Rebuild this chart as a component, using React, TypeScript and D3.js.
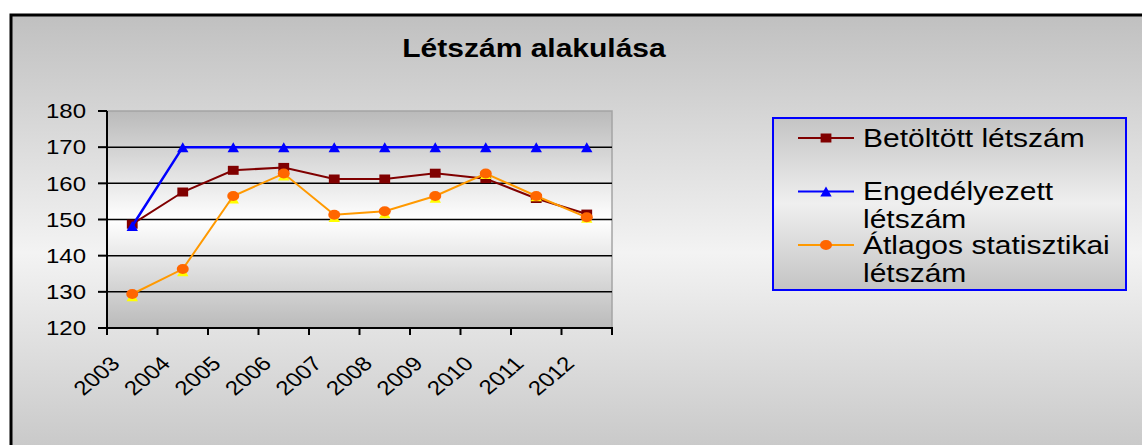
import React, { useRef, useEffect } from "react";
import * as d3 from "d3";

// data
const years = ["2003", "2004", "2005", "2006", "2007", "2008", "2009", "2010", "2011", "2012"];
const betoltott = [148.7, 157.6, 163.6, 164.4, 161.2, 161.2, 162.8, 161.3, 155.8, 151.5];
const engedelyezett = [148.2, 170, 170, 170, 170, 170, 170, 170, 170, 170];
const atlagos = [129.4, 136.3, 156.5, 162.7, 151.3, 152.3, 156.5, 162.7, 156.5, 150.6];
// yellow triangles peeking out under the orange circles (no legend entry)
const atlagosSarga = [128.8, 135.7, 155.8, 162.2, 150.7, 151.7, 156.0, 162.6, 156.4, 150.5];
const yTicks = [120, 130, 140, 150, 160, 170, 180];
const title = "Létszám alakulása";
const seriesNames = ["Betöltött létszám", "Engedélyezett létszám", "Átlagos statisztikai létszám"];

const W = 1142;
const H = 445;
const SX = 1.2; // the original image is stretched horizontally
const FONT = "'Liberation Sans', Arial, sans-serif";

const App = () => {
  const svgRef = useRef<SVGSVGElement>(null);

  useEffect(() => {
    const svg = d3.select(svgRef.current);
    svg.selectAll("*").remove();

    const plot = { left: 107, right: 612, top: 111, bottom: 328 };

    // gradients
    const defs = svg.append("defs");
    const addGrad = (id: string, y1: number, y2: number, stops: [number, string][]) => {
      const g = defs
        .append("linearGradient")
        .attr("id", id)
        .attr("gradientUnits", "userSpaceOnUse")
        .attr("x1", 0)
        .attr("x2", 0)
        .attr("y1", y1)
        .attr("y2", y2);
      stops.forEach(([o, c]) => g.append("stop").attr("offset", o).attr("stop-color", c));
    };
    addGrad("bgGrad", 15, 490, [[0, "#c0c0c0"], [0.5, "#f3f3f3"], [1, "#c0c0c0"]]);
    addGrad("plotGrad", plot.top, plot.bottom, [[0, "#bababa"], [0.5, "#ffffff"], [1, "#bababa"]]);
    addGrad("legendGrad", 118, 290, [[0, "#c4c4c4"], [0.5, "#efefef"], [1, "#c4c4c4"]]);

    // chart area
    svg
      .append("rect")
      .attr("x", 11)
      .attr("y", 15)
      .attr("width", 1200)
      .attr("height", 500)
      .attr("fill", "url(#bgGrad)")
      .attr("stroke", "#000")
      .attr("stroke-width", 3);

    // title
    svg
      .append("text")
      .attr("transform", `translate(534,57) scale(${SX},1)`)
      .attr("text-anchor", "middle")
      .attr("font-family", FONT)
      .attr("font-weight", "bold")
      .attr("font-size", 25)
      .text(title);

    // scales
    const x = d3.scaleBand().domain(years).range([plot.left, plot.right]).padding(0);
    const cx = (i: number) => (x(years[i]) as number) + x.bandwidth() / 2;
    const y = d3.scaleLinear().domain([120, 180]).range([plot.bottom, plot.top]);

    // plot area
    svg
      .append("rect")
      .attr("x", plot.left)
      .attr("y", plot.top)
      .attr("width", plot.right - plot.left)
      .attr("height", plot.bottom - plot.top)
      .attr("fill", "url(#plotGrad)")
      .attr("stroke", "#a4a4a4")
      .attr("stroke-width", 1.5);

    // gridlines
    svg
      .append("g")
      .selectAll("line")
      .data(yTicks.filter((t) => t > 120 && t < 180))
      .join("line")
      .attr("x1", plot.left)
      .attr("x2", plot.right)
      .attr("y1", (d) => y(d))
      .attr("y2", (d) => y(d))
      .attr("stroke", "#000")
      .attr("stroke-width", 1.5);

    // y axis
    const yAxis = svg.append("g").attr("stroke", "#000").attr("stroke-width", 2);
    yAxis.append("line").attr("x1", plot.left).attr("x2", plot.left).attr("y1", plot.top).attr("y2", plot.bottom);
    yAxis
      .selectAll("line.tick")
      .data(yTicks)
      .join("line")
      .attr("class", "tick")
      .attr("x1", plot.left - 9)
      .attr("x2", plot.left)
      .attr("y1", (d) => y(d))
      .attr("y2", (d) => y(d));
    svg
      .append("g")
      .selectAll("text")
      .data(yTicks)
      .join("text")
      .attr("transform", (d) => `translate(86,${y(d)}) scale(${SX},1)`)
      .attr("dy", "0.36em")
      .attr("text-anchor", "end")
      .attr("font-family", FONT)
      .attr("font-size", 20)
      .text((d) => d);

    // x axis
    const xAxis = svg.append("g").attr("stroke", "#000").attr("stroke-width", 2);
    xAxis.append("line").attr("x1", plot.left).attr("x2", plot.right + 1).attr("y1", plot.bottom).attr("y2", plot.bottom);
    const bounds = years.map((d) => x(d) as number).concat([plot.right]);
    xAxis
      .selectAll("line.tick")
      .data(bounds)
      .join("line")
      .attr("class", "tick")
      .attr("x1", (d) => d)
      .attr("x2", (d) => d)
      .attr("y1", plot.bottom)
      .attr("y2", plot.bottom + 7);
    svg
      .append("g")
      .selectAll("text")
      .data(years)
      .join("text")
      .attr("transform", (d, i) => `translate(${cx(i) - 11},${plot.bottom + 37}) scale(${SX},1) rotate(-45)`)
      .attr("text-anchor", "end")
      .attr("font-family", FONT)
      .attr("font-size", 20)
      .text((d) => d);

    // markers
    const squarePath = d3.symbol().type(d3.symbolSquare).size(81)() as string;
    const trianglePath = "M0,-5L4.75,5L-4.75,5Z";
    const drawMarker = (g: any, kind: string, color: string) => {
      if (kind === "circle") g.append("circle").attr("r", 5).attr("fill", color);
      else g.append("path").attr("d", kind === "square" ? squarePath : trianglePath).attr("fill", color);
    };

    const series = [
      { name: seriesNames[0], values: betoltott, line: "#800000", width: 2, marker: "square", mColor: "#800000" },
      { name: seriesNames[1], values: engedelyezett, line: "#0000ff", width: 2.5, marker: "triangle", mColor: "#0000ff" },
      { name: null, values: atlagosSarga, line: null, width: 0, marker: "triangle", mColor: "#ffff00" },
      { name: seriesNames[2], values: atlagos, line: "#ff9900", width: 2, marker: "circle", mColor: "#ff6600" },
    ];

    const line = d3
      .line<number>()
      .x((d, i) => cx(i))
      .y((d) => y(d));

    series.forEach((s) => {
      if (s.line) {
        svg
          .append("path")
          .datum(s.values)
          .attr("d", line)
          .attr("fill", "none")
          .attr("stroke", s.line)
          .attr("stroke-width", s.width);
      }
      svg
        .append("g")
        .selectAll("g")
        .data(s.values)
        .join("g")
        .attr("transform", (d, i) => `translate(${cx(i)},${y(d)}) scale(${SX},1)`)
        .each(function () {
          drawMarker(d3.select(this), s.marker, s.mColor);
        });
    });

    // legend
    const lg = svg.append("g");
    lg.append("rect")
      .attr("x", 773)
      .attr("y", 118)
      .attr("width", 353)
      .attr("height", 172)
      .attr("fill", "url(#legendGrad)")
      .attr("stroke", "#0000ff")
      .attr("stroke-width", 2);

    const legendSeries = series.filter((s) => s.name);
    legendSeries.forEach((s, i) => {
      const ly = 138 + i * 53.5;
      lg.append("line")
        .attr("x1", 798)
        .attr("x2", 854)
        .attr("y1", ly)
        .attr("y2", ly)
        .attr("stroke", s.line as string)
        .attr("stroke-width", 2);
      const m = lg.append("g").attr("transform", `translate(826,${ly}) scale(${SX},1)`);
      drawMarker(m, s.marker, s.mColor);

      // word wrap to the legend width
      const t = lg
        .append("text")
        .attr("transform", `translate(863,${ly + 8.5}) scale(${SX},1)`)
        .attr("font-family", FONT)
        .attr("font-size", 25);
      const maxW = (1120 - 863) / SX;
      const words = (s.name as string).split(" ");
      let cur: string[] = [];
      let lineNo = 0;
      let tspan = t.append("tspan").attr("x", 0).attr("y", 0);
      words.forEach((w) => {
        cur.push(w);
        tspan.text(cur.join(" "));
        if ((tspan.node() as SVGTSpanElement).getComputedTextLength() > maxW && cur.length > 1) {
          cur.pop();
          tspan.text(cur.join(" "));
          cur = [w];
          lineNo += 1;
          tspan = t.append("tspan").attr("x", 0).attr("y", lineNo * 28.5).text(w);
        }
      });
    });
  }, []);

  return <svg ref={svgRef} width={W} height={H} style={{ position: "absolute", left: 0, top: 0 }}></svg>;
};

export default App;
